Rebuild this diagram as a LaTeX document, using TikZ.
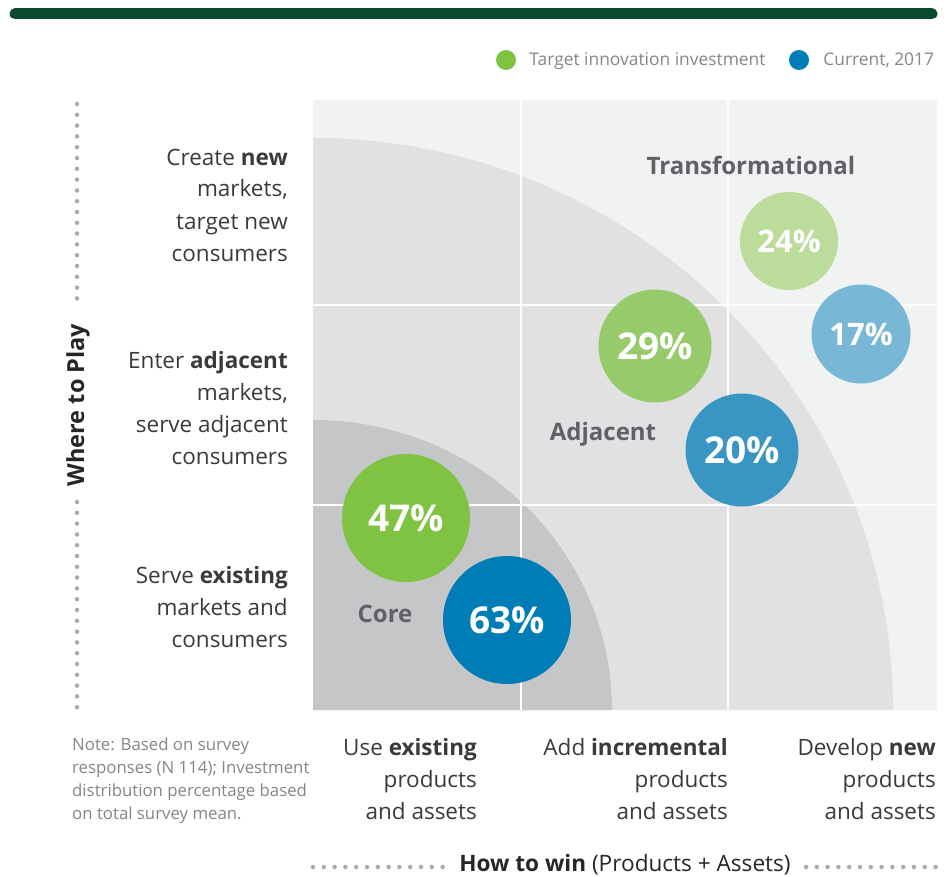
\documentclass[tikz,border=0pt]{standalone}
\usepackage{fontspec}
\setmainfont{Open Sans}
\usetikzlibrary{positioning}

\definecolor{barGreen}{HTML}{0A4A2E}
\definecolor{panelGrey}{HTML}{F1F2F2}
\definecolor{adjGrey}{HTML}{E1E1E1}
\definecolor{coreGrey}{HTML}{C5C6C8}
\definecolor{targetGreen}{HTML}{80C241}
\definecolor{currentBlue}{HTML}{007CB6}
\definecolor{targetMid}{HTML}{97CA6A}
\definecolor{currentMid}{HTML}{3996C2}
\definecolor{targetLight}{HTML}{BBDC9B}
\definecolor{currentLight}{HTML}{79B7D6}
\definecolor{zoneText}{HTML}{5F6068}
\definecolor{bodyText}{HTML}{3A3A3A}
\definecolor{noteText}{HTML}{858585}
\definecolor{dotGrey}{HTML}{A9ABAE}

\tikzset{
  bubble/.style = {circle, inner sep = 0pt, text = white, font = \bfseries\fontsize{37}{40}\selectfont},
  smallbubble/.style = {bubble, font = \bfseries\fontsize{31}{34}\selectfont},
  keydot/.style = {circle, inner sep = 0pt, minimum size = 20pt},
  keytext/.style = {inner sep = 0pt, text = noteText, font = \fontsize{17.4}{20}\selectfont},
  zone/.style = {anchor = base, inner sep = 0pt, text = zoneText, font = \bfseries\fontsize{24}{27}\selectfont},
  rowlabel/.style = {anchor = base east, align = right, inner sep = 0pt, text = bodyText, font = \fontsize{22.5}{32}\selectfont},
  notetext/.style = {anchor = base west, align = left, inner sep = 0pt, text = noteText, font = \fontsize{16.8}{23}\selectfont},
  gridline/.style = {white, line width = 1.5pt},
  dotline/.style = {dotGrey, line width = 4.5pt, line cap = round, dash pattern = on 0pt off 10.8pt},
}

\begin{document}
\begin{tikzpicture}[x = 1pt, y = -1pt]
    \useasboundingbox (0,0) rectangle (952,877);

    % header bar and key
    \draw [barGreen, line width = 11pt, line cap = round] (15,14) -- (932,14);
    \node (key-target) at (506,60) [keydot, fill = targetGreen] {};
    \node (key-target-text) [keytext, base right = 13pt of key-target, yshift = -6pt] {Target innovation investment};
    \node (key-current) at (799,60) [keydot, fill = currentBlue] {};
    \node (key-current-text) [keytext, base right = 14pt of key-current, yshift = -6pt] {Current, 2017};

    % panel, zones and grid
    \fill [panelGrey] (313,100) rectangle (937,710);
    \fill [adjGrey] (313,710) -- (893,710) arc [start angle = 0, end angle = -90, x radius = 580, y radius = 572] -- cycle;
    \fill [coreGrey] (313,710) -- (612,710) arc [start angle = 0, end angle = -90, x radius = 299, y radius = 290] -- cycle;
    \draw [gridline] (521,100) -- (521,710);
    \draw [gridline] (728,100) -- (728,710);
    \draw [gridline] (313,305) -- (937,305);
    \draw [gridline] (313,505) -- (937,505);

    % bubbles
    \node (core-target) at (406,518) [bubble, fill = targetGreen, minimum size = 128pt] {47\%};
    \node (core-current) at (507,620) [bubble, fill = currentBlue, minimum size = 128pt] {63\%};
    \node (adj-target) at (655,346) [bubble, fill = targetMid, minimum size = 113pt] {29\%};
    \node (adj-current) at (742,450) [bubble, fill = currentMid, minimum size = 113pt] {20\%};
    \node (trans-target) at (789,241) [smallbubble, fill = targetLight, minimum size = 98pt] {24\%};
    \node (trans-current) at (861,334) [smallbubble, fill = currentLight, minimum size = 99pt] {17\%};

    \node (trans-label) at (751,175) [zone] {Transformational};
    \node (adj-label) at (603,440) [zone] {Adjacent};
    \node (core-label) at (385,622) [zone] {Core};

    % where to play (base = last line)
    \node (row-new) at (288,261) [rowlabel] {Create \textbf{new}\\markets,\\target new\\consumers};
    \node (row-adj) at (288,464) [rowlabel] {Enter \textbf{adjacent}\\markets,\\serve adjacent\\consumers};
    \node (row-core) at (288,647) [rowlabel] {Serve \textbf{existing}\\markets and\\consumers};
    \draw [dotline] (77,104) -- (77,306);
    \node (play-axis) at (78,405) [rotate = 90, inner sep = 0pt, font = \bfseries\fontsize{23.5}{26}\selectfont, text = black!85] {Where to Play};
    \draw [dotline] (77,502) -- (77,708);

    % how to win
    \node (col-core) at (477,819) [rowlabel] {Use \textbf{existing}\\products\\and assets};
    \node (col-adj) at (728,819) [rowlabel] {Add \textbf{incremental}\\products\\and assets};
    \node (col-new) at (936,819) [rowlabel] {Develop \textbf{new}\\products\\and assets};
    \draw [dotline] (313,867) -- (445,867);
    \node (win-axis) at (625,871) [anchor = base, inner sep = 0pt, font = \fontsize{22.6}{26}\selectfont, text = black!85] {\textbf{How to win} (Products + Assets)};
    \draw [dotline] (806,867) -- (938,867);

    \node (note) at (72,819) [notetext] {Note: Based on survey\\responses (N 114); Investment\\distribution percentage based\\on total survey mean.};
\end{tikzpicture}
\end{document}
